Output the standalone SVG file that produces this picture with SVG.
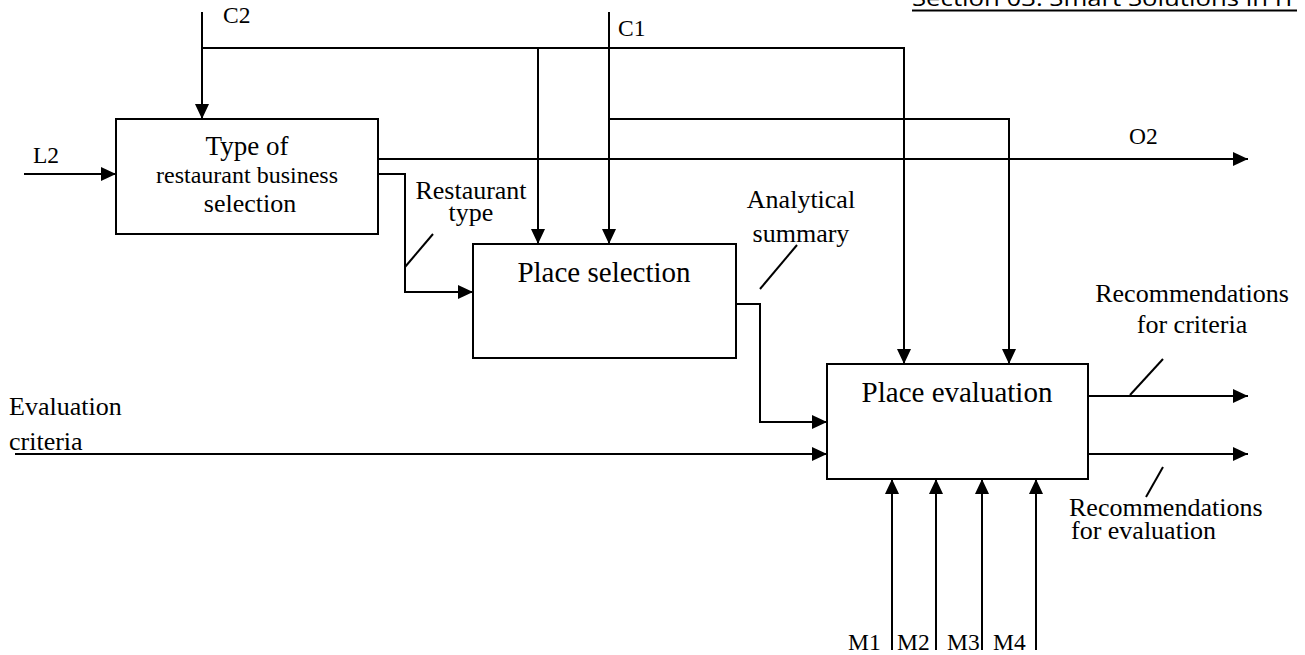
<svg xmlns="http://www.w3.org/2000/svg" width="1305" height="655" viewBox="0 0 1305 655">
<style>
  .box { fill: #ffffff; stroke: #000000; stroke-width: 2; }
  .ln { fill: none; stroke: #000000; stroke-width: 2; }
  .arr { fill: none; stroke: #000000; stroke-width: 2; marker-end: url(#ah); }
  .t { font-family: "Liberation Serif", "Times New Roman", serif; fill: #000000; }
  .lbl { font-size: 23.5px; }
  .mid { text-anchor: middle; }
  .hdr { font-family: "Open Sans", "Liberation Sans", sans-serif; font-size: 22px; fill: #000000; }
</style>
<defs>
  <marker id="ah" markerUnits="userSpaceOnUse" markerWidth="15" markerHeight="14" refX="15" refY="7" orient="auto">
    <path d="M0,0 L15,7 L0,14 Z" fill="#000000"/>
  </marker>
</defs>
<rect width="1305" height="655" fill="#ffffff"/>

<g id="header">
  <text class="hdr" x="912" y="6" textLength="384" lengthAdjust="spacingAndGlyphs">Section 03. Smart Solutions in IT</text>
  <line x1="912" y1="10.5" x2="1297" y2="10.5" stroke="#000000" stroke-width="2"/>
</g>

<g id="connectors">
  <!-- C2 -->
  <path class="arr" d="M202,12 L202,119"/>
  <path class="arr" d="M202,48 L904,48 L904,364"/>
  <path class="arr" d="M538,48 L538,244"/>
  <!-- C1 -->
  <path class="arr" d="M609,12 L609,244"/>
  <path class="arr" d="M609,119 L1009,119 L1009,364"/>
  <!-- L2 -->
  <path class="arr" d="M24,174 L116,174"/>
  <!-- O2 -->
  <path class="arr" d="M378,159 L1248,159"/>
  <!-- Restaurant type -->
  <path class="arr" d="M378,174 L405,174 L405,292 L473,292"/>
  <line class="ln" x1="405" y1="267" x2="433" y2="234"/>
  <!-- Analytical summary -->
  <path class="arr" d="M736,304 L760,304 L760,422 L827,422"/>
  <line class="ln" x1="760" y1="289" x2="797" y2="245"/>
  <!-- Evaluation criteria -->
  <path class="arr" d="M15,454 L827,454"/>
  <!-- Outputs -->
  <path class="arr" d="M1088,396 L1248,396"/>
  <line class="ln" x1="1130" y1="395" x2="1163" y2="359"/>
  <path class="arr" d="M1088,454 L1248,454"/>
  <line class="ln" x1="1146" y1="497" x2="1163" y2="467"/>
  <!-- Mechanisms -->
  <path class="arr" d="M892,650 L892,479"/>
  <path class="arr" d="M936,650 L936,479"/>
  <path class="arr" d="M982,650 L982,479"/>
  <path class="arr" d="M1036,650 L1036,479"/>
</g>

<g id="node-type-selection">
  <rect class="box" x="116" y="119" width="262" height="115"/>
  <text class="t mid" x="247" y="155" font-size="27">Type of</text>
  <text class="t mid" x="247" y="183" font-size="24">restaurant business</text>
  <text class="t mid" x="250" y="212" font-size="26">selection</text>
</g>

<g id="node-place-selection">
  <rect class="box" x="473" y="244" width="263" height="114"/>
  <text class="t mid" x="604" y="282" font-size="29">Place selection</text>
</g>

<g id="node-place-evaluation">
  <rect class="box" x="827" y="364" width="261" height="115"/>
  <text class="t mid" x="957" y="402" font-size="29">Place evaluation</text>
</g>

<g id="labels">
  <text class="t lbl" x="223" y="23">C2</text>
  <text class="t lbl" x="618" y="36">C1</text>
  <text class="t lbl" x="33" y="163">L2</text>
  <text class="t lbl" x="1129" y="144">O2</text>
  <text class="t mid" x="471" y="199" font-size="26">Restaurant</text>
  <text class="t mid" x="471" y="221" font-size="26">type</text>
  <text class="t mid" x="801" y="208" font-size="26">Analytical</text>
  <text class="t mid" x="801" y="242" font-size="26">summary</text>
  <text class="t mid" x="1192" y="302" font-size="26">Recommendations</text>
  <text class="t mid" x="1192" y="333" font-size="26">for criteria</text>
  <text class="t" x="1069" y="516" font-size="26">Recommendations</text>
  <text class="t" x="1071" y="539" font-size="26">for evaluation</text>
  <text class="t" x="9" y="415" font-size="26">Evaluation</text>
  <text class="t" x="9" y="450" font-size="26">criteria</text>
  <text class="t lbl" x="848" y="650">M1</text>
  <text class="t lbl" x="897" y="650">M2</text>
  <text class="t lbl" x="947" y="650">M3</text>
  <text class="t lbl" x="993" y="650">M4</text>
</g>
</svg>
